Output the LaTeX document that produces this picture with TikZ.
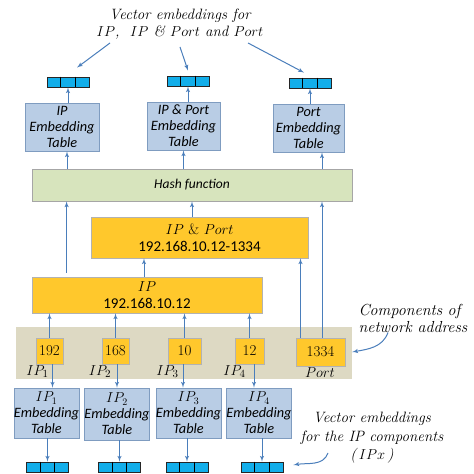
\documentclass[tikz,border=0pt]{standalone}
\usepackage{fontspec}
\setsansfont{Carlito}
\usepackage{tikz}
\usetikzlibrary{arrows,positioning,calc}
\definecolor{arrowblue}{HTML}{4A7EBB}
\definecolor{tablefill}{HTML}{B9CDE5}
\definecolor{tableline}{HTML}{7F9CC0}
\definecolor{hashfill}{HTML}{D7E4BD}
\definecolor{addrfill}{HTML}{FFC82C}
\definecolor{bandfill}{HTML}{DDD9C3}
\definecolor{vecfill}{HTML}{12AEEA}
\newcommand{\tabfont}{\sffamily\itshape\fontsize{14.3}{16}\selectfont}
\newcommand{\notefont}{\itshape\fontsize{15}{17.5}\selectfont}
\newcommand{\vecsplit}[1]{
  \draw[line width=0.8pt] ($(#1.north west)!1/3!(#1.north east)$) -- ($(#1.south west)!1/3!(#1.south east)$)
        ($(#1.north west)!2/3!(#1.north east)$) -- ($(#1.south west)!2/3!(#1.south east)$);}

\begin{document}
\begin{tikzpicture}[x=1pt,y=1pt,>=latex',
    arr/.style={->,line width=1pt,arrowblue},
    tablebox/.style={draw=tableline,fill=tablefill,line width=0.8pt,inner sep=0pt,align=center,font=\tabfont},
    vecbox/.style={draw=black!85,fill=vecfill,line width=0.8pt,minimum width=42pt,minimum height=10pt,inner sep=0pt},
    addrbox/.style={draw=gray!60,fill=addrfill,line width=0.8pt,inner sep=0pt,align=center,font=\fontsize{15}{17}\selectfont},
    partbox/.style={addrbox,minimum height=26pt},
    sublabel/.style={font=\fontsize{15}{17}\selectfont}]
  \useasboundingbox (0,0) rectangle (474,474);
  % network address band
  \node[fill=bandfill,minimum width=336pt,minimum height=52pt,inner sep=0pt] (band) at (184,121) {};
  % top: embedding tables and vectors
  \node[vecbox] (vip) at (68,392) {};
  \node[vecbox] (vipport) at (188,393) {};
  \node[vecbox] (vport) at (310,391) {};
  \node[tablebox,minimum width=74pt,minimum height=48pt] (tip) at (62,347) {IP\\Embedding\\Table};
  \node[tablebox,minimum width=73pt,minimum height=48pt] (tipport) at (183.5,348) {IP \& Port\\Embedding\\Table};
  \node[tablebox,minimum width=71pt,minimum height=48pt] (tport) at (308.5,346) {Port\\Embedding\\Table};
  \node[draw=gray!70,fill=hashfill,line width=0.8pt,minimum width=320pt,minimum height=32pt,font=\sffamily\itshape\fontsize{13.5}{15}\selectfont] (hash) at (192,289) {Hash function};
  % combined addresses
  \node[addrbox,minimum width=217pt,minimum height=41pt] (ipport) at (199.5,236.5) {$IP$ \& $Port$\\\sffamily 192.168.10.12-1334};
  \node[addrbox,minimum width=230pt,minimum height=36pt] (ip) at (147,179) {$IP$\\\sffamily 192.168.10.12};
  % components
  \node[partbox,minimum width=27pt] (c1) at (49.5,123) {192};
  \node[partbox,minimum width=27pt] (c2) at (115.5,123) {168};
  \node[partbox,minimum width=33pt] (c3) at (184.5,123) {10};
  \node[partbox,minimum width=29pt] (c4) at (249.5,123) {12};
  \node[addrbox,minimum width=49pt,minimum height=28pt] (c5) at (320.5,122) {1334};
  \node[sublabel] (l1) at (37.5,102) {$IP_1$};
  \node[sublabel] (l2) at (100,102) {$IP_2$};
  \node[sublabel] (l3) at (167.5,102) {$IP_3$};
  \node[sublabel] (l4) at (234.5,102) {$IP_4$};
  \node[sublabel] (lp) at (320,101) {$Port$};
  % bottom: component tables and vectors
  \node[tablebox,minimum width=65pt,minimum height=50pt] (b1) at (46.5,61) {$IP_1$\\Embedding\\Table};
  \node[tablebox,minimum width=64pt,minimum height=52pt] (b2) at (117,60) {$IP_2$\\Embedding\\Table};
  \node[tablebox,minimum width=65pt,minimum height=50pt] (b3) at (188.5,61) {$IP_3$\\Embedding\\Table};
  \node[tablebox,minimum width=64pt,minimum height=50pt] (b4) at (259,61) {$IP_4$\\Embedding\\Table};
  \node[vecbox] (v1) at (47.5,7) {};
  \node[vecbox] (v2) at (119.5,7) {};
  \node[vecbox] (v3) at (187,7) {};
  \node[vecbox] (v4) at (262,7) {};
  \foreach \v in {vip,vipport,vport,v1,v2,v3,v4} {\vecsplit{\v}}
  % notes
  \node[font=\notefont,align=center] (title) at (180,450) {Vector embeddings for\\$IP$,\ \ $IP$ \& $Port$ and $Port$};
  \node[font=\itshape\fontsize{16}{17.5}\selectfont,align=left,anchor=west] (comp) at (355,155.5) {Components of\\network address};
  \node[font=\itshape\fontsize{15}{18.5}\selectfont,align=center] (botnote) at (372,36) {Vector embeddings\\for the IP components\\(\,$IPx$\,)};
  % connectors
  \draw[arr] ($(title.center)+(-70,-19)$) -- ([xshift=9pt,yshift=9pt]vip.north);
  \draw[arr] ($(title.center)+(0,-23)$) -- ([yshift=5pt]vipport.north);
  \draw[arr] ($(title.center)+(68,-19)$) -- ([xshift=-6pt,yshift=5pt]vport.north);
  \draw[arr] (tip.north -| vip) -- (vip.south);
  \draw[arr] (tipport.north -| vipport) -- (vipport.south);
  \draw[arr] (tport.north -| vport) -- (vport.south);
  \draw[arr] ([xshift=5pt]tip.south |- hash.north) -- ([xshift=5pt]tip.south);
  \draw[arr] (hash.north -| tipport) -- (tipport.south);
  \draw[arr] ([xshift=13.5pt]tport.south |- hash.north) -- ([xshift=13.5pt]tport.south);
  \draw[arr] ($(ip.north west)+(35,4)$) -- ($(hash.south west)+(35,0)$);
  \draw[arr] (ipport.north -| hash) -- (hash.south);
  \draw[arr] ([xshift=-3pt]ip.north) -- ([xshift=-3pt]ip.north |- ipport.south);
  \draw[arr] ([xshift=-20pt]c5.north) -- ([xshift=-20pt]c5.north |- ipport.south);
  \draw[arr] ([xshift=1.5pt]c5.north) -- ([xshift=1.5pt]c5.north |- hash.south);
  \foreach \c in {c1,c2,c3,c4} {\draw[arr] (\c.north) -- (\c.north |- ip.south);}
  \draw[arr] ([xshift=3pt]c1.south) -- ([xshift=3pt]c1.south |- b1.north);
  \draw[arr] ([xshift=1.5pt]c2.south) -- ([xshift=1.5pt]c2.south |- b2.north);
  \draw[arr] ([xshift=-1.5pt]c3.south) -- ([xshift=-1.5pt]c3.south |- b3.north);
  \draw[arr] ([xshift=4.5pt]c4.south) -- ([xshift=4.5pt]c4.south |- b4.north);
  \foreach \b/\v in {b1/v1,b2/v2,b3/v3,b4/v4} {\draw[arr] (\b.south -| \v) -- (\v.north);}
  \draw[arr] ($(comp.south west)+(33,4)$) to[out=250,in=10] ([yshift=1pt]band.east);
  \draw[arr] ($(botnote.center)+(-44,-15)$) to[out=250,in=10] ([xshift=10pt,yshift=2pt]v4.east);
\end{tikzpicture}
\end{document}
